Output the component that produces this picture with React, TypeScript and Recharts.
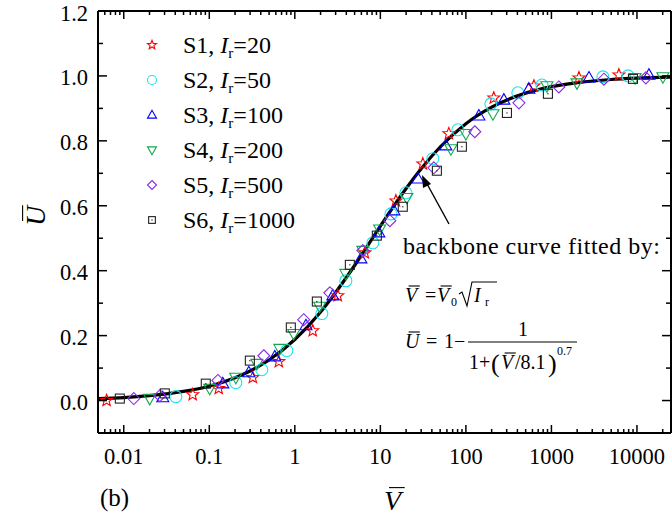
import { ComposedChart, Scatter, Line, XAxis, YAxis } from 'recharts';

// S1..S6 test series: [V, U]
const S1 = [
  [0.0063, 0.0], [0.064, 0.018], [0.129, 0.037], [0.323, 0.071], [0.65, 0.12],
  [1.62, 0.215], [3.18, 0.323], [6.59, 0.455], [15.2, 0.615], [31.4, 0.729],
  [63.2, 0.822], [212, 0.932], [624, 0.969], [2100, 0.994], [6150, 1.003],
];
const S2 = [
  [0.0406, 0.012], [0.204, 0.055], [0.411, 0.095], [0.806, 0.154], [2.07, 0.268],
  [3.95, 0.369], [8.17, 0.486], [13.3, 0.575], [19.9, 0.64], [41.1, 0.745],
  [80.6, 0.834], [196, 0.914], [405, 0.948], [774, 0.972], [4000, 0.997], [7850, 1.0],
];
const S3 = [
  [0.0286, 0.009], [0.144, 0.052], [0.29, 0.086], [0.583, 0.135], [1.35, 0.231],
  [2.78, 0.323], [5.92, 0.437], [9.6, 0.517], [14.4, 0.585], [27.5, 0.683],
  [58.3, 0.785], [142, 0.877], [278, 0.926], [545, 0.96], [2750, 0.994], [13800, 1.003],
];
const S4 = [
  [0.0201, 0.006], [0.101, 0.037], [0.204, 0.071], [0.36, 0.114], [0.668, 0.16],
  [0.97, 0.206], [1.95, 0.29], [3.95, 0.391], [6.24, 0.462], [9.8, 0.528],
  [20.4, 0.625], [66.8, 0.775], [100, 0.822], [207, 0.883], [885, 0.969],
  [1990, 0.978], [9500, 0.994], [20100, 0.997],
];
const S5 = [
  [0.0131, 0.006], [0.0264, 0.015], [0.126, 0.062], [0.434, 0.138], [1.27, 0.249],
  [2.57, 0.332], [6.24, 0.462], [12.9, 0.554], [42.2, 0.717], [127, 0.828],
  [417, 0.917], [1220, 0.966], [4110, 0.99], [12700, 0.994],
];
const S6 = [
  [0.009, 0.006], [0.0302, 0.022], [0.091, 0.052], [0.298, 0.123], [0.898, 0.225],
  [1.81, 0.305], [4.4, 0.418], [9.1, 0.508], [18.3, 0.597], [45.8, 0.708],
  [89.8, 0.782], [302, 0.886], [910, 0.945], [8980, 0.991],
];

// backbone curve
const BACKBONE = [
  [0.005, 0.006], [0.01, 0.009], [0.02, 0.015], [0.05, 0.028], [0.1, 0.044],
  [0.2, 0.07], [0.3, 0.091], [0.5, 0.125], [1, 0.188], [2, 0.273], [3, 0.333],
  [5, 0.416], [8.1, 0.5], [10, 0.537], [20, 0.653], [30, 0.714], [50, 0.781],
  [100, 0.853], [200, 0.904], [500, 0.947], [1000, 0.967], [2000, 0.979],
  [5000, 0.989], [10000, 0.993], [25000, 0.996],
];

const X_MAJOR = [0.01, 0.1, 1, 10, 100, 1000, 10000];
const X_MINOR = [
  0.005, 0.006, 0.007, 0.008, 0.009,
  0.02, 0.03, 0.04, 0.05, 0.06, 0.07, 0.08, 0.09,
  0.2, 0.3, 0.4, 0.5, 0.6, 0.7, 0.8, 0.9,
  2, 3, 4, 5, 6, 7, 8, 9,
  20, 30, 40, 50, 60, 70, 80, 90,
  200, 300, 400, 500, 600, 700, 800, 900,
  2000, 3000, 4000, 5000, 6000, 7000, 8000, 9000,
  20000,
];
const Y_MAJOR = [0, 0.2, 0.4, 0.6, 0.8, 1.0, 1.2];
const Y_MINOR = [-0.1, 0.1, 0.3, 0.5, 0.7, 0.9, 1.1];

const SERIES = [
  { name: 'S1', ir: '20', data: S1, color: '#ff0000', shape: 'star' },
  { name: 'S2', ir: '50', data: S2, color: '#18e4ee', shape: 'circle' },
  { name: 'S3', ir: '100', data: S3, color: '#0000ff', shape: 'triangle' },
  { name: 'S4', ir: '200', data: S4, color: '#12a84c', shape: 'down' },
  { name: 'S5', ir: '500', data: S5, color: '#8a2be2', shape: 'diamond' },
  { name: 'S6', ir: '1000', data: S6, color: '#222222', shape: 'square' },
];

const FONT = '"Liberation Serif", "Times New Roman", serif';
const W = 672;
const H = 521;
const TICK_FONT = 22.5;

function Marker({ kind, cx, cy, color, s }) {
  const sw = 1.1;
  if (kind === 'star') {
    const pts = [];
    for (let i = 0; i < 10; i++) {
      const r = i % 2 === 0 ? s * 1.05 : s * 0.45;
      const a = -Math.PI / 2 + (i * Math.PI) / 5;
      pts.push(`${cx + r * Math.cos(a)},${cy + r * Math.sin(a)}`);
    }
    return <polygon points={pts.join(' ')} fill="none" stroke={color} strokeWidth={sw} />;
  }
  if (kind === 'circle') {
    return <circle cx={cx} cy={cy} r={s} fill="none" stroke={color} strokeWidth={sw} />;
  }
  if (kind === 'triangle') {
    return (
      <polygon
        points={`${cx},${cy - s * 1.05} ${cx - s},${cy + s * 0.7} ${cx + s},${cy + s * 0.7}`}
        fill="none" stroke={color} strokeWidth={sw}
      />
    );
  }
  if (kind === 'down') {
    return (
      <polygon
        points={`${cx},${cy + s * 1.05} ${cx - s},${cy - s * 0.7} ${cx + s},${cy - s * 0.7}`}
        fill="none" stroke={color} strokeWidth={sw}
      />
    );
  }
  if (kind === 'diamond') {
    return (
      <polygon
        points={`${cx},${cy - s} ${cx + s},${cy} ${cx},${cy + s} ${cx - s},${cy}`}
        fill="none" stroke={color} strokeWidth={sw}
      />
    );
  }
  const h = s * 0.75;
  return (
    <g>
      <rect x={cx - h} y={cy - h} width={2 * h} height={2 * h} fill="none" stroke={color} strokeWidth={sw} />
      <rect x={cx - 0.6} y={cy - 0.6} width={1.2} height={1.2} fill={color} />
    </g>
  );
}

const isMajorX = (v) => X_MAJOR.includes(v);
const isMajorY = (v) => Y_MAJOR.includes(v);

const BottomTick = ({ x, y, payload }) => {
  const major = isMajorX(payload.value);
  return (
    <g>
      <line x1={x} x2={x} y1={y} y2={y - (major ? 8 : 4)} stroke="#000" strokeWidth={1.5} />
      {major && (
        <text x={x} y={y + 31} textAnchor="middle" fontSize={TICK_FONT} fontFamily={FONT} fill="#000">
          {String(payload.value)}
        </text>
      )}
    </g>
  );
};

const TopTick = ({ x, y, payload }) => {
  const major = isMajorX(payload.value);
  return <line x1={x} x2={x} y1={y} y2={y + (major ? 8 : 4)} stroke="#000" strokeWidth={1.5} />;
};

const LeftTick = ({ x, y, payload }) => {
  const major = isMajorY(payload.value);
  return (
    <g>
      <line x1={x} x2={x + (major ? 9 : 5)} y1={y} y2={y} stroke="#000" strokeWidth={1.5} />
      {major && (
        <text x={x - 10} y={y + 9.5} textAnchor="end" fontSize={TICK_FONT} fontFamily={FONT} fill="#000">
          {payload.value.toFixed(1)}
        </text>
      )}
    </g>
  );
};

const RightTick = ({ x, y, payload }) => {
  const major = isMajorY(payload.value);
  return <line x1={x} x2={x - (major ? 9 : 5)} y1={y} y2={y} stroke="#000" strokeWidth={1.5} />;
};

// italic letter with an overbar
function Barred({ x, y, ch, size }) {
  return (
    <g>
      <text x={x} y={y} fontSize={size} fontStyle="italic" fontFamily={FONT} fill="#000">
        {ch}
      </text>
      <line
        x1={x + size * 0.18} x2={x + size * 0.74}
        y1={y - size * 0.8} y2={y - size * 0.8}
        stroke="#000" strokeWidth={1.1}
      />
    </g>
  );
}

function Annotations() {
  const t = { fontFamily: FONT, fill: '#000' };
  return (
    <svg
      width={W} height={H}
      style={{ position: 'absolute', left: 0, top: 0, pointerEvents: 'none' }}
    >
      {/* legend */}
      {SERIES.map((s, i) => {
        const cy = 45 + i * 35;
        return (
          <g key={s.name}>
            <Marker kind={s.shape} cx={152} cy={cy} color={s.color} s={4.5} />
            <text x={183} y={cy + 8} fontSize={24} {...t}>
              {s.name},{' '}
              <tspan fontStyle="italic">I</tspan>
              <tspan fontSize={15} dy={5}>r</tspan>
              <tspan dy={-5}>={s.ir}</tspan>
            </text>
          </g>
        );
      })}

      {/* axis titles */}
      <g transform="translate(45,216) rotate(-90)">
        <Barred x={-10} y={0} ch="U" size={28} />
      </g>
      <Barred x={384} y={510} ch="V" size={28} />
      <text x={100} y={506} fontSize={25} {...t}>(b)</text>

      {/* arrow */}
      <line x1={449} y1={224} x2={426} y2={182} stroke="#000" strokeWidth={1.4} />
      <polygon points="422,175 431,184 423,188" fill="#000" />

      {/* fit description */}
      <text x={403} y={254} fontSize={24} textLength={257} {...t}>backbone curve fitted by:</text>

      <Barred x={405} y={302} ch="V" size={20} />
      <text x={425} y={302} fontSize={20} {...t}>=</text>
      <Barred x={437} y={302} ch="V" size={20} />
      <text x={451} y={306} fontSize={12} {...t}>0</text>
      <path d="M459,294 L462,292 L467,306 L472,282 L497,282" fill="none" stroke="#000" strokeWidth={1.1} />
      <text x={474} y={302} fontSize={20} fontStyle="italic" {...t}>I</text>
      <text x={485} y={306} fontSize={12} {...t}>r</text>

      <Barred x={405} y={348} ch="U" size={20} />
      <text x={426} y={348} fontSize={20} {...t}>=</text>
      <text x={444} y={348} fontSize={20} {...t}>1</text>
      <text x={454} y={348} fontSize={20} {...t}>−</text>
      <line x1={468} x2={577} y1={342} y2={342} stroke="#000" strokeWidth={1} />
      <text x={523} y={336} fontSize={20} textAnchor="middle" {...t}>1</text>
      <text x={469} y={369} fontSize={20} {...t}>1+</text>
      <text x={491} y={372} fontSize={26} {...t}>(</text>
      <Barred x={501} y={369} ch="V" size={20} />
      <text x={515} y={369} fontSize={20} {...t}>/8.1</text>
      <text x={548} y={372} fontSize={26} {...t}>)</text>
      <text x={557} y={355} fontSize={12} {...t}>0.7</text>
    </svg>
  );
}

export default function App() {
  const axisLine = { stroke: '#000', strokeWidth: 2 };
  const xTicks = [...X_MINOR, ...X_MAJOR].sort((a, b) => a - b);
  const yTicks = [...Y_MINOR, ...Y_MAJOR].sort((a, b) => a - b);
  return (
    <div style={{ position: 'absolute', left: 0, top: 0, width: W, height: H, background: '#fff' }}>
      <ComposedChart
        width={W}
        height={H}
        margin={{ top: 10, right: 0, bottom: 87, left: 97 }}
      >
        <XAxis
          xAxisId="b" dataKey="x" type="number" scale="log"
          domain={[0.005, 25000]} allowDataOverflow
          ticks={xTicks} interval={0} height={1}
          tickSize={0} tickMargin={0} tickLine={false}
          axisLine={axisLine} tick={BottomTick}
        />
        <XAxis
          xAxisId="t" orientation="top" dataKey="x" type="number" scale="log"
          domain={[0.005, 25000]} allowDataOverflow
          ticks={xTicks} interval={0} height={1}
          tickSize={0} tickMargin={0} tickLine={false}
          axisLine={axisLine} tick={TopTick}
        />
        <YAxis
          yAxisId="l" dataKey="y" type="number"
          domain={[-0.1, 1.2]} allowDataOverflow
          ticks={yTicks} interval={0} width={1}
          tickSize={0} tickMargin={0} tickLine={false}
          axisLine={axisLine} tick={LeftTick}
        />
        <YAxis
          yAxisId="r" orientation="right" dataKey="y" type="number"
          domain={[-0.1, 1.2]} allowDataOverflow
          ticks={yTicks} interval={0} width={1}
          tickSize={0} tickMargin={0} tickLine={false}
          axisLine={axisLine} tick={RightTick}
        />
        {SERIES.map((s) => (
          <Scatter
            key={s.name}
            xAxisId="b" yAxisId="l"
            data={s.data.map(([x, y]) => ({ x, y }))}
            isAnimationActive={false}
            shape={(p) => <Marker kind={s.shape} cx={p.cx} cy={p.cy} color={s.color} s={6} />}
          />
        ))}
        <Line
          xAxisId="b" yAxisId="l"
          data={BACKBONE.map(([x, y]) => ({ x, y }))}
          dataKey="y" type="monotone"
          stroke="#000" strokeWidth={3.2} dot={false}
          isAnimationActive={false}
        />
      </ComposedChart>
      <Annotations />
    </div>
  );
}
